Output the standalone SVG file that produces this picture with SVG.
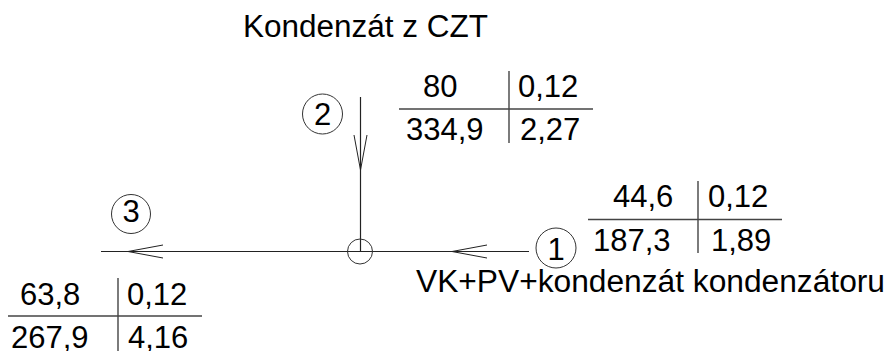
<svg xmlns="http://www.w3.org/2000/svg" width="893" height="351" viewBox="0 0 893 351">
<style>
text{font-family:"Liberation Sans",Arial,sans-serif;font-size:31px;fill:#000}
.ln{stroke:#222;stroke-width:1.2;fill:none}
.tb{stroke:#444;stroke-width:1.4;fill:none}
.cr{stroke:#333;stroke-width:1;fill:none}
.ar{stroke:#222;stroke-width:1;fill:none}
</style>
<rect width="893" height="351" fill="#fff"/>
<g id="connectors">
<line class="ln" x1="101" y1="251.5" x2="529" y2="251.5"/>
<line class="ln" x1="360.5" y1="97" x2="360.5" y2="251.5"/>
<polyline class="ar" points="163,245 128,251.5 163,258"/>
<polyline class="ar" points="487,245 452,251.5 487,258"/>
<polyline class="ar" points="354,135 360.5,170 367,135"/>
</g>
<g id="junction">
<circle class="cr" cx="360" cy="251.5" r="12.5"/>
</g>
<g id="node1">
<circle class="cr" cx="556" cy="248" r="20"/>
<text x="556" y="260" text-anchor="middle">1</text>
</g>
<g id="node2">
<circle class="cr" cx="322.5" cy="114" r="20"/>
<text x="322.5" y="124.5" text-anchor="middle">2</text>
</g>
<g id="node3">
<circle class="cr" cx="131" cy="214" r="19.5"/>
<text x="131" y="222" text-anchor="middle">3</text>
</g>
<g id="label-czt">
<text x="243" y="37" textLength="245" lengthAdjust="spacingAndGlyphs">Kondenzát z CZT</text>
</g>
<g id="label-vk">
<text x="416" y="292" textLength="469" lengthAdjust="spacingAndGlyphs">VK+PV+kondenzát kondenzátoru</text>
</g>
<g id="table1">
<line class="tb" x1="588" y1="219.5" x2="782" y2="219.5"/>
<line class="tb" x1="698" y1="181" x2="698" y2="253"/>
<text x="613" y="207">44,6</text>
<text x="708" y="207">0,12</text>
<text x="593" y="251">187,3</text>
<text x="711" y="251">1,89</text>
</g>
<g id="table2">
<line class="tb" x1="399" y1="109" x2="593" y2="109"/>
<line class="tb" x1="509" y1="71" x2="509" y2="143"/>
<text x="423" y="97">80</text>
<text x="518" y="97">0,12</text>
<text x="406" y="140">334,9</text>
<text x="520" y="140">2,27</text>
</g>
<g id="table3">
<line class="tb" x1="8" y1="316" x2="202" y2="316"/>
<line class="tb" x1="118" y1="278" x2="118" y2="351"/>
<text x="20" y="305">63,8</text>
<text x="127" y="305">0,12</text>
<text x="11" y="348">267,9</text>
<text x="128" y="348">4,16</text>
</g>
</svg>
